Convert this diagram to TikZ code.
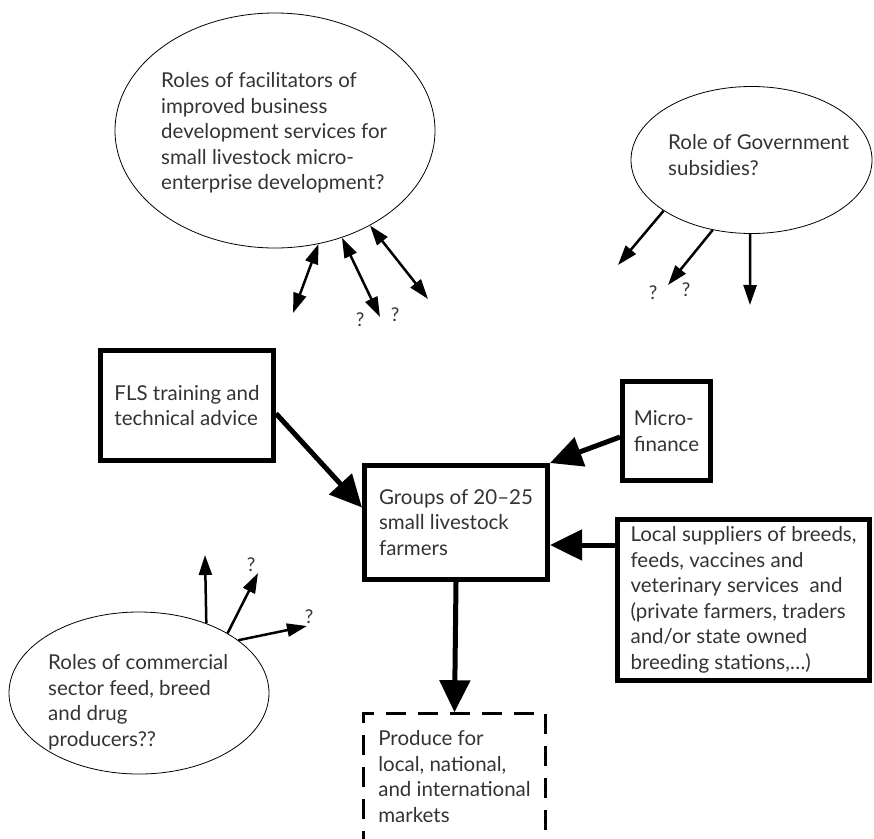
\documentclass[tikz,border=0pt]{standalone}
\usepackage{fontspec}
\setmainfont{Lato}
\usetikzlibrary{shapes.geometric,arrows.meta}

\tikzset{
  bubble/.style={ellipse, draw, line width=0.8pt, inner sep=0pt},
  txt/.style={align=left, inner sep=0pt, font=\fontsize{20.5}{25.5}\selectfont, text=black!80},
  block/.style={draw, line width=5pt, align=left, inner sep=0pt, font=\fontsize{20.5}{25.5}\selectfont, text=black!80},
  dashbox/.style={draw, line width=2.5pt, dash pattern=on 20pt off 12pt, align=left, inner sep=0pt, font=\fontsize{20.5}{25.5}\selectfont, text=black!80},
  thin arrow/.style={line width=2.5pt, -{Triangle[length=20pt,width=13pt]}},
  both arrow/.style={line width=2.5pt, {Triangle[length=20pt,width=13pt]}-{Triangle[length=20pt,width=13pt]}},
  thick arrow/.style={line width=5pt, -{Triangle[length=32pt,width=30pt]}},
  qmark/.style={font=\fontsize{19}{19}\selectfont, text=black!80}
}

\begin{document}
\begin{tikzpicture}[x=1pt, y=-1pt]
  \useasboundingbox (0,0) rectangle (874,838);

  % open questions
  \node[bubble, minimum width=320pt, minimum height=235pt] (bds) at (275,130.5) {};
  \node[txt, anchor=west] (bdstext) at (161,133) {Roles of facilitators of\\improved business\\development services for\\small livestock micro-\\enterprise development?};
  \node[bubble, minimum width=241pt, minimum height=147pt] (gov) at (751.5,160) {};
  \node[txt, anchor=west] (govtext) at (668,155) {Role of Government\\subsidies?};
  \node[bubble, minimum width=260pt, minimum height=162pt] (comm) at (139,693) {};
  \node[txt, anchor=west] (commtext) at (48,702) {Roles of commercial\\sector feed, breed\\and drug\\producers??};

  % boxes
  \node[block, inner xsep=14pt, minimum height=110pt, anchor=east] (fls) at (276,405.5) {FLS training and\\technical advice};
  \node[block, minimum width=183pt, minimum height=114pt] (groups) at (456,522.5) {Groups of 20--25\\small livestock\\farmers};
  \node[block, minimum width=88pt, minimum height=99pt] (micro) at (666.5,431) {Micro-\\finance};
  \node[block, minimum width=252pt, minimum height=161pt] (local) at (743.5,600) {Local suppliers of breeds,\\feeds, vaccines and\\veterinary services\ \ and\\(private farmers, traders\\and/or state owned\\breeding stations,…)};
  \node[dashbox, minimum width=182pt, minimum height=126.5pt] (produce) at (454.5,776.75) {Produce for\\local, national,\\and international\\markets};

  % free ends
  \coordinate (b1) at (293,313);
  \coordinate (b2) at (380,317);
  \coordinate (b3) at (428,299);
  \coordinate (g1) at (618,265);
  \coordinate (g2) at (668,285);
  \coordinate (g3) at (750,305);
  \coordinate (c1) at (205,555);
  \coordinate (c2) at (258,573);
  \coordinate (c3) at (307,626);

  \draw[both arrow] (bds.-69) -- (b1);
  \draw[both arrow] (bds.-58.6) -- (b2);
  \draw[both arrow] (bds.-45.5) -- (b3);
  \draw[thin arrow] (gov.-150.6) -- (g1);
  \draw[thin arrow] (gov.-119.3) -- (g2);
  \draw[thin arrow] (gov.-91) -- (g3);
  \draw[thin arrow] (comm.46.7) -- (c1);
  \draw[thin arrow] (comm.34.9) -- (c2);
  \draw[thin arrow] (comm.28.9) -- (c3);

  \node[qmark] (q1) at (360,320) {?};
  \node[qmark] (q2) at (395,315) {?};
  \node[qmark] (q3) at (653,293) {?};
  \node[qmark] (q4) at (686,290) {?};
  \node[qmark] (q5) at (251,565) {?};
  \node[qmark] (q6) at (309,617) {?};

  % main flow
  \coordinate (gE) at ([yshift=-22.5pt]groups.east);
  \draw[thick arrow] ([yshift=-8pt]fls.east) -- ([yshift=15pt]groups.west);
  \draw[thick arrow] ([yshift=-6pt]micro.west) -- (groups.north east);
  \draw[thick arrow] (local.west |- gE) -- (gE);
  \draw[thick arrow] (groups.south) -- (produce.north);
\end{tikzpicture}
\end{document}
